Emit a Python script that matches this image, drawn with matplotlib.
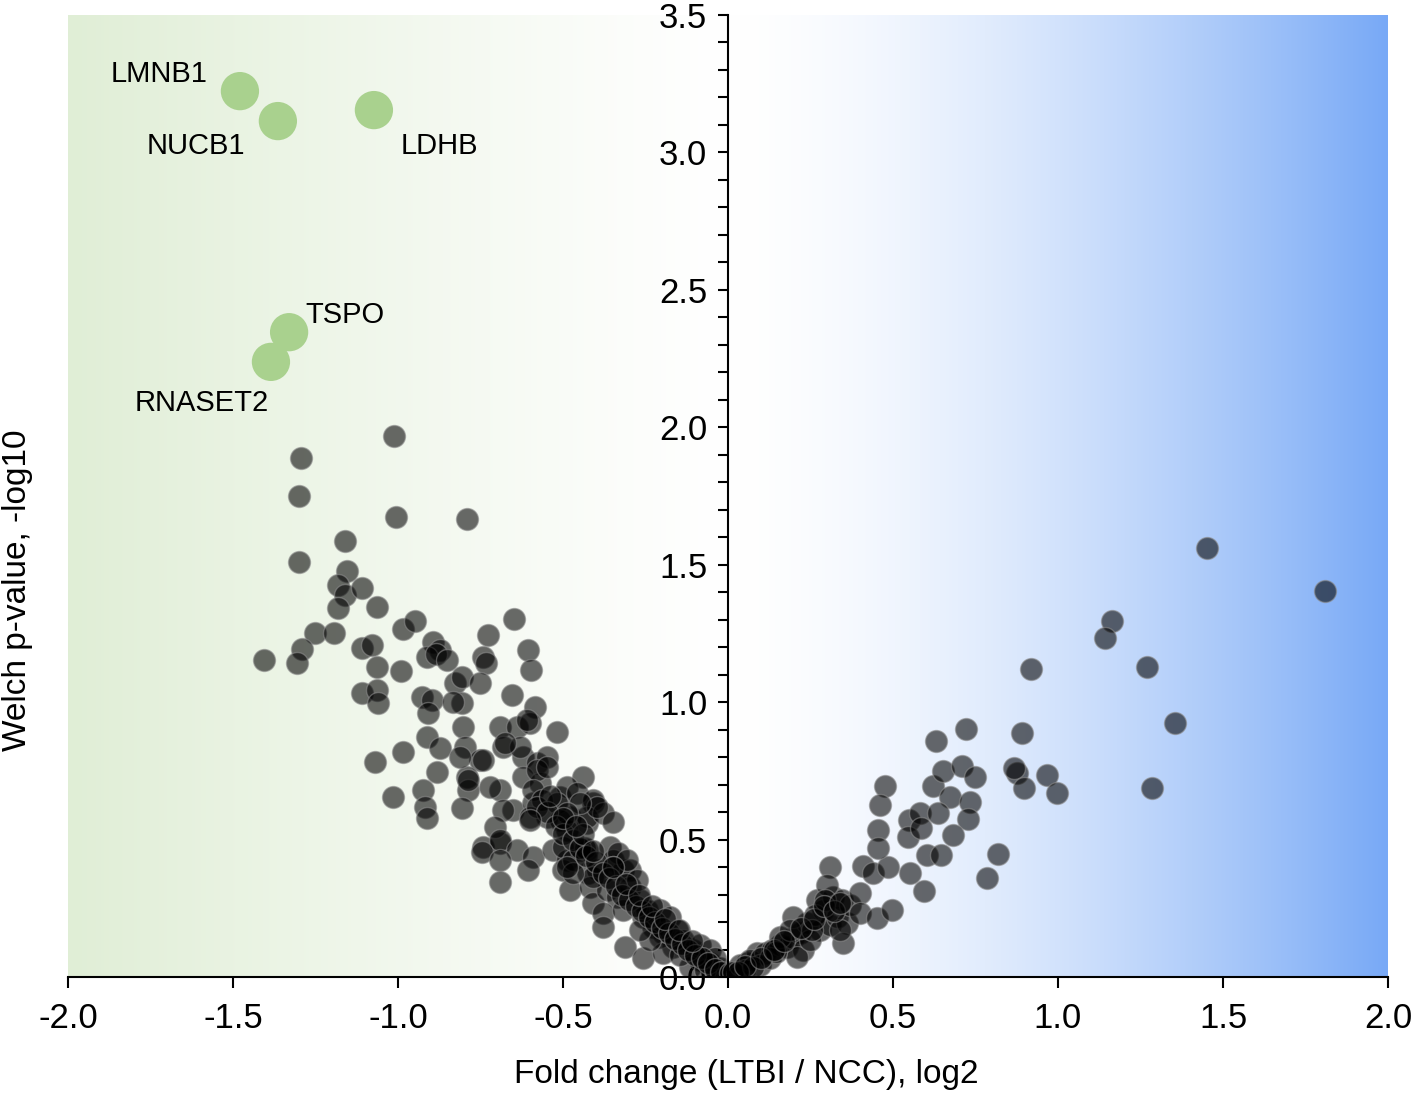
import numpy as np
import matplotlib.pyplot as plt
from matplotlib.colors import to_rgb

plt.rcParams['font.family'] = ['Liberation Sans', 'DejaVu Sans']
plt.rcParams['axes.unicode_minus'] = False

# ── data: proteins, log2 fold change vs -log10 Welch p ─────────
down_fc = [-1.012, -1.294, -1.300, -1.006, -0.791, -1.161, -1.300, -1.155, -1.182, -1.161,
           -1.109, -1.182, -1.064, -1.252, -1.194, -0.985, -0.948, -1.109, -1.079, -1.291,
           -1.306, -1.406, -1.064, -0.991, -0.894, -0.873, -0.912, -0.885, -0.852, -0.727,
           -0.648, -0.742, -0.733, -0.606, -0.597, -1.109, -1.064, -1.061, -0.927, -0.897,
           -0.909, -0.827, -0.806, -0.752, -0.806, -0.833, -0.655, -0.585, -0.803, -0.797,
           -0.912, -0.873, -1.070, -0.985, -0.752, -0.691, -0.682, -0.639, -0.600, -0.621,
           -0.579, -0.548, -0.518, -0.882, -0.791, -0.788, -0.924, -0.918, -0.912, -1.015,
           -0.806, -0.691, -0.652, -0.591, -0.548, -0.509, -0.479, -0.439, -0.409, -0.427,
           -0.742, -0.691, -0.621, -0.570, -0.630, -0.579, -0.548, -0.488, -0.721, -0.609,
           -0.676, -0.742, -0.682, -0.706, -0.691, -0.639, -0.591, -0.606, -0.745, -0.691,
           -0.691, -0.591, -0.564, -0.600, -0.518, -0.509, -0.488, -0.530, -0.488, -0.500,
           -0.448, -0.424, -0.397, -0.358, -0.348, -0.318, -0.458, -0.409, -0.427, -0.379,
           -0.348, -0.397, -0.448, -0.488, -0.500, -0.470, -0.427, -0.333, -0.297, -0.348,
           -0.433, -0.479, -0.418, -0.409, -0.367, -0.336, -0.379, -0.318, -0.297, -0.267,
           -0.379, -0.245, -0.258, -0.227, -0.206, -0.176, -0.197, -0.155, -0.136, -0.167,
           -0.312, -0.258, -0.206, -0.197, -0.106, -0.085, -0.115, -0.055, -0.033, -0.276,
           -0.306, -0.409, -0.470, -0.488, -0.085, -0.055, -0.024, -0.070, -0.039, -0.236,
           -0.267, -0.145, -0.812, -0.788,
           -0.58, -0.55, -0.52, -0.50, -0.47, -0.45, -0.43, -0.40, -0.38, -0.36,
           -0.34, -0.32, -0.30, -0.28, -0.26, -0.24, -0.22, -0.20, -0.18, -0.16,
           -0.14, -0.12, -0.10, -0.08, -0.06, -0.04, -0.02, -0.50, -0.44, -0.41,
           -0.35, -0.31, -0.27, -0.23, -0.19, -0.15, -0.11, -0.60, -0.54, -0.46]
down_p = [1.968, 1.888, 1.750, 1.673, 1.666, 1.586, 1.510, 1.477, 1.426, 1.390,
          1.415, 1.342, 1.346, 1.251, 1.251, 1.266, 1.295, 1.197, 1.208, 1.193,
          1.142, 1.153, 1.128, 1.113, 1.219, 1.190, 1.164, 1.175, 1.153, 1.244,
          1.302, 1.164, 1.142, 1.190, 1.117, 1.033, 1.044, 0.997, 1.019, 1.008,
          0.960, 1.069, 1.091, 1.069, 0.997, 1.000, 1.026, 0.982, 0.909, 0.837,
          0.873, 0.833, 0.782, 0.818, 0.789, 0.909, 0.837, 0.909, 0.924, 0.800,
          0.778, 0.800, 0.891, 0.746, 0.728, 0.680, 0.680, 0.618, 0.578, 0.655,
          0.615, 0.680, 0.607, 0.633, 0.582, 0.655, 0.582, 0.728, 0.633, 0.560,
          0.473, 0.487, 0.728, 0.706, 0.837, 0.753, 0.764, 0.691, 0.691, 0.935,
          0.851, 0.789, 0.607, 0.546, 0.498, 0.462, 0.437, 0.389, 0.455, 0.426,
          0.346, 0.680, 0.644, 0.582, 0.633, 0.571, 0.535, 0.462, 0.426, 0.389,
          0.462, 0.378, 0.389, 0.473, 0.426, 0.389, 0.669, 0.644, 0.582, 0.597,
          0.564, 0.618, 0.633, 0.597, 0.473, 0.426, 0.462, 0.451, 0.389, 0.400,
          0.469, 0.316, 0.327, 0.269, 0.316, 0.291, 0.233, 0.244, 0.327, 0.280,
          0.182, 0.244, 0.218, 0.182, 0.244, 0.218, 0.160, 0.171, 0.135, 0.109,
          0.109, 0.069, 0.146, 0.087, 0.098, 0.062, 0.036, 0.051, 0.015, 0.353,
          0.426, 0.364, 0.378, 0.400, 0.116, 0.098, 0.033, 0.025, 0.069, 0.135,
          0.171, 0.080, 0.800, 0.717,
          0.62, 0.60, 0.55, 0.52, 0.50, 0.47, 0.44, 0.42, 0.38, 0.36,
          0.33, 0.30, 0.28, 0.26, 0.24, 0.22, 0.20, 0.18, 0.16, 0.14,
          0.12, 0.10, 0.08, 0.07, 0.05, 0.03, 0.02, 0.58, 0.52, 0.46,
          0.40, 0.34, 0.30, 0.26, 0.21, 0.17, 0.13, 0.57, 0.66, 0.55]

up_fc = [0.006, 0.027, 0.058, 0.088, 0.036, 0.067, 0.112, 0.133, 0.158, 0.179,
         0.197, 0.218, 0.227, 0.209, 0.239, 0.270, 0.288, 0.279, 0.309, 0.318,
         0.330, 0.345, 0.361, 0.309, 0.300, 0.197, 0.158, 0.097, 0.052, 0.015,
         0.127, 0.248, 0.264, 0.370, 0.348, 0.400, 0.400, 0.452, 0.497, 0.409,
         0.439, 0.485, 0.455, 0.455, 0.476, 0.461, 0.548, 0.582, 0.545, 0.585,
         0.603, 0.645, 0.594, 0.552, 0.621, 0.630, 0.652, 0.709, 0.748, 0.721,
         0.673, 0.733, 0.636, 0.727, 0.682, 0.818, 0.785, 0.891, 0.918, 0.876,
         0.867, 0.897, 0.967, 0.997, 1.285, 1.355, 1.270, 1.164, 1.142, 1.452,
         1.809, 0.076, 0.145, 0.188, 0.255, 0.294, 0.339,
         0.03, 0.05, 0.10, 0.14, 0.17, 0.22, 0.26, 0.29, 0.32, 0.34]
up_p = [0.015, 0.000, 0.051, 0.087, 0.044, 0.062, 0.087, 0.098, 0.116, 0.109,
        0.142, 0.160, 0.098, 0.073, 0.196, 0.280, 0.244, 0.171, 0.189, 0.291,
        0.218, 0.280, 0.196, 0.400, 0.335, 0.218, 0.146, 0.044, 0.025, 0.018,
        0.069, 0.135, 0.226, 0.262, 0.124, 0.306, 0.233, 0.215, 0.244, 0.404,
        0.378, 0.400, 0.535, 0.469, 0.695, 0.626, 0.571, 0.597, 0.509, 0.542,
        0.444, 0.444, 0.313, 0.378, 0.695, 0.858, 0.749, 0.768, 0.728, 0.902,
        0.655, 0.637, 0.597, 0.575, 0.517, 0.447, 0.360, 0.888, 1.120, 0.742,
        0.760, 0.688, 0.735, 0.669, 0.688, 0.924, 1.128, 1.295, 1.233, 1.561,
        1.404, 0.036, 0.091, 0.171, 0.171, 0.280, 0.171,
        0.02, 0.04, 0.07, 0.10, 0.13, 0.18, 0.21, 0.26, 0.24, 0.27]

hit_names = ['LMNB1', 'NUCB1', 'LDHB', 'TSPO', 'RNASET2']
hit_fc = [-1.479, -1.364, -1.073, -1.330, -1.385]
hit_p = [3.223, 3.114, 3.154, 2.346, 2.238]

# where each gene name sits (data units)
label_pos = {'LMNB1': (-1.724, 3.285), 'NUCB1': (-1.612, 3.023),
             'LDHB': (-0.876, 3.023), 'TSPO': (-1.161, 2.408),
             'RNASET2': (-1.594, 2.088)}

GREEN_BG = '#e0eed6'
BLUE_BG = '#78a9f6'
HIT = '#a9d18e'

# ── figure ────────────────────────────────────────────────────
fig = plt.figure(figsize=(14.14, 10.94), dpi=100)
ax = fig.add_axes([68 / 1414, 1 - 977 / 1094, 1320 / 1414, 962 / 1094])
ax.set_xlim(-2, 2)
ax.set_ylim(0, 3.5)

# background gradient: green (down) -> white -> blue (up)
gx = np.linspace(-2, 2, 800)
g, b, w = np.array(to_rgb(GREEN_BG)), np.array(to_rgb(BLUE_BG)), np.ones(3)
cols = []
for v in gx:
    if v < 0:
        t = (-v / 2) ** 1.2
        cols.append(w + (g - w) * t)
    else:
        t = (v / 2) ** 1.6
        cols.append(w + (b - w) * t)
grad = np.array(cols)[None, :, :]
ax.imshow(grad, extent=[-2, 2, 0, 3.5], aspect='auto', zorder=0, interpolation='bilinear')

fc = down_fc + up_fc
pv = down_p + up_p
ax.scatter(fc, pv, s=250, color='black', alpha=0.58,
           edgecolors=(0.55, 0.55, 0.55), linewidths=1.0, zorder=2)
ax.scatter(hit_fc, hit_p, s=760, color=HIT, edgecolors='none', zorder=3)
for name in hit_names:
    lx, ly = label_pos[name]
    ax.text(lx, ly, name, fontsize=21, ha='center', va='center', zorder=4)

# axes styling
for s in ['top', 'right']:
    ax.spines[s].set_visible(False)
ax.spines['left'].set_position(('data', 0))
ax.spines['left'].set_linewidth(1.5)
ax.spines['bottom'].set_linewidth(1.5)
ax.spines['left'].set_zorder(5)
ax.spines['bottom'].set_zorder(5)

ax.set_xticks(np.arange(-2, 2.01, 0.5))
ax.set_xticklabels([f'{v:.1f}' for v in np.arange(-2, 2.01, 0.5)])
ax.set_yticks(np.arange(0, 3.51, 0.5))
ax.set_yticklabels([f'{v:.1f}' for v in np.arange(0, 3.51, 0.5)])
ax.set_yticks(np.arange(0, 3.51, 0.1), minor=True)
ax.tick_params(axis='x', direction='out', length=8, width=1.5, labelsize=25, pad=10)
ax.tick_params(axis='y', which='both', direction='out', length=7, width=1.5,
               labelsize=25, pad=8)
ax.tick_params(axis='y', which='minor', labelleft=False)

fig.text(746 / 1414, 1 - 1075 / 1094, 'Fold change (LTBI / NCC), log2',
         fontsize=24, ha='center', va='center')
fig.text(18 / 1414, 1 - 590 / 1094, 'Welch p-value, -log10',
         fontsize=24, ha='center', va='center', rotation=90)

fig.savefig('out.png', dpi=100)
plt.close(fig)
